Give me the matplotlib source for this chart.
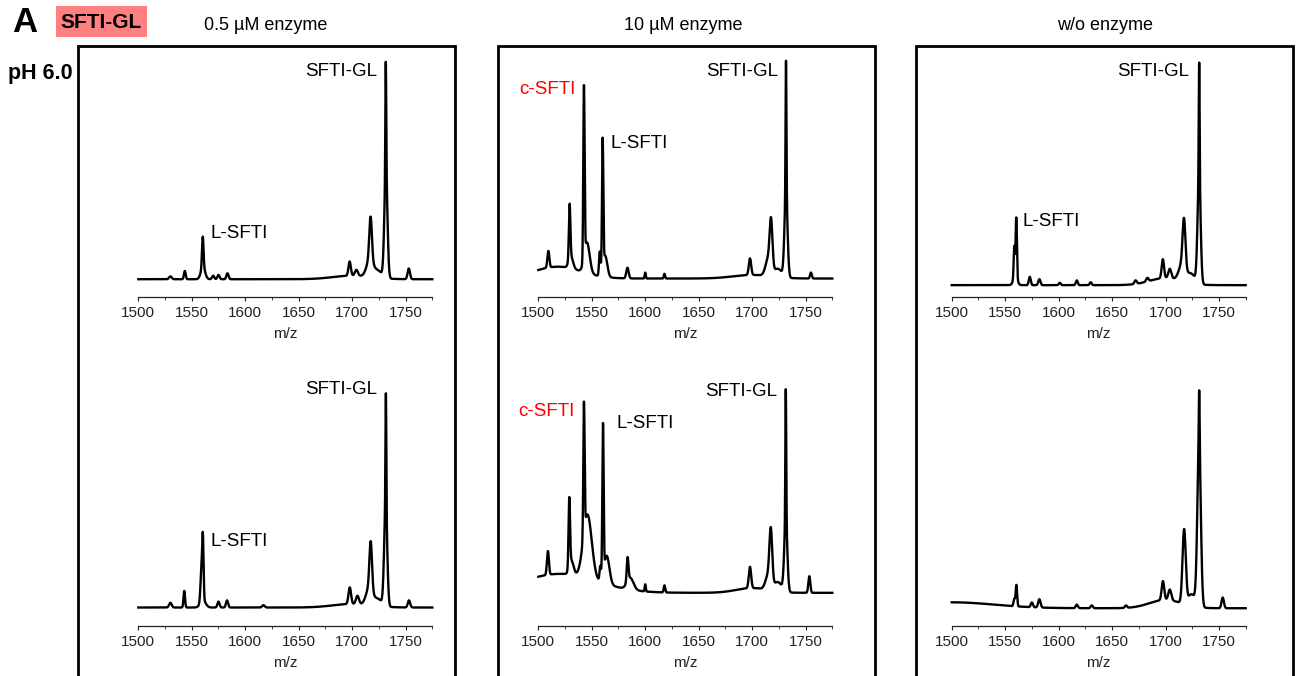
import numpy as np
import matplotlib
matplotlib.use("Agg")
import matplotlib.pyplot as plt
from matplotlib.patches import Rectangle
from matplotlib.ticker import MultipleLocator

plt.rcParams['font.family'] = ['Liberation Sans', 'DejaVu Sans']

W, H = 1299, 676

# m/z range shown on every spectrum
mz_min, mz_max = 1500, 1775
mz_ticks = [1500, 1550, 1600, 1650, 1700, 1750]

col_titles = ["0.5 µM enzyme", "10 µM enzyme", "w/o enzyme"]

# peak tables: (m/z, relative height above baseline, width)
# row 1 (pH 6.0) and row 2, one table per enzyme condition
base_05_a = 0.075
peaks_05_a = [(1530, 0.012, 1.2), (1543.5, 0.035, 0.8), (1560.3, 0.13, 0.7),
              (1560.5, 0.05, 2.0), (1570, 0.015, 1.0), (1575, 0.018, 1.0),
              (1583.4, 0.025, 1.0), (1700, 0.015, 18), (1697.7, 0.06, 1.1),
              (1704, 0.025, 1.4), (1717.3, 0.18, 1.2), (1716.5, 0.07, 3),
              (1724, 0.03, 4), (1731.6, 0.45, 1.4), (1731.5, 0.46, 0.4),
              (1753, 0.045, 1.1)]

base_10_a = 0.078
peaks_10_a = [(1518, 0.05, 22), (1509.4, 0.07, 0.9), (1529.3, 0.23, 0.7),
              (1530.5, 0.05, 2.0), (1542.7, 0.72, 0.6), (1545.5, 0.13, 2.5),
              (1557.5, 0.1, 0.7), (1560.2, 0.54, 0.6), (1562.5, 0.09, 2.0),
              (1583.4, 0.045, 1.1), (1600, 0.025, 0.5), (1618, 0.02, 0.6),
              (1700, 0.015, 18), (1698, 0.07, 1.1), (1717.7, 0.2, 1.3),
              (1715, 0.07, 2.5), (1724, 0.035, 4), (1731.7, 0.35, 1.4),
              (1731.7, 0.56, 0.4), (1755, 0.025, 0.8)]

base_wo_a = 0.05
peaks_wo_a = [(1558.5, 0.13, 0.55), (1560.4, 0.25, 0.6), (1559.5, 0.04, 1.8),
              (1573, 0.035, 0.9), (1582, 0.025, 1.0), (1601, 0.01, 0.9),
              (1617, 0.02, 0.9), (1630, 0.012, 0.9), (1672, 0.015, 1.1),
              (1683, 0.015, 1.1), (1700, 0.03, 15), (1697.5, 0.08, 1.1),
              (1704, 0.04, 1.4), (1717.3, 0.2, 1.3), (1715.5, 0.07, 3),
              (1724, 0.04, 4), (1731.4, 0.45, 1.4), (1731.5, 0.48, 0.4)]

base_05_b = 0.078
peaks_05_b = [(1530, 0.02, 1.2), (1543, 0.07, 0.7), (1559, 0.12, 0.9),
              (1560.4, 0.25, 0.65), (1560.5, 0.03, 2.5), (1575, 0.025, 1.0),
              (1583, 0.03, 1.0), (1617, 0.01, 1.2), (1700, 0.015, 18),
              (1697.8, 0.07, 1.2), (1705, 0.035, 1.4), (1717.4, 0.2, 1.2),
              (1716, 0.07, 3), (1724, 0.03, 4), (1731.4, 0.42, 1.4),
              (1731.6, 0.48, 0.4), (1753.2, 0.03, 1.1)]

base_10_b = 0.14
peaks_10_b = [(1520, 0.08, 35), (1700, 0.02, 15), (1509, 0.1, 0.9),
              (1529, 0.29, 0.7), (1531, 0.06, 2.0), (1542.7, 0.55, 0.6),
              (1546, 0.27, 4.0), (1558, 0.06, 0.7), (1560.5, 0.63, 0.6),
              (1564, 0.12, 2.5), (1583.5, 0.1, 0.8), (1586, 0.05, 3),
              (1600, 0.03, 0.5), (1618, 0.03, 0.7), (1698, 0.09, 1.1),
              (1717.5, 0.22, 1.3), (1715, 0.06, 2.5), (1724, 0.04, 4),
              (1731.5, 0.3, 1.4), (1731.5, 0.55, 0.4), (1753.5, 0.07, 0.9)]

base_wo_b = 0.075
peaks_wo_b = [(1500, 0.025, 40), (1700, 0.035, 15), (1558.5, 0.03, 0.7),
              (1560.5, 0.09, 0.7), (1575, 0.02, 1.0), (1582, 0.035, 1.1),
              (1617, 0.015, 1.0), (1631, 0.012, 1.0), (1663, 0.01, 1.0),
              (1697.6, 0.08, 1.2), (1704, 0.045, 1.4), (1717.4, 0.31, 1.5),
              (1724.5, 0.05, 3.5), (1731.4, 0.68, 1.6), (1731.5, 0.23, 0.4),
              (1753.5, 0.045, 1.1)]

mz = np.linspace(mz_min, mz_max, 2751)


def spectrum(base, peaks):
    y = np.full_like(mz, base)
    for c, h, s in peaks:
        y += h * np.exp(-0.5 * ((mz - c) / s) ** 2)
    return y


def fx(x):
    return x / W


def fy(y):
    return 1 - y / H


fig = plt.figure(figsize=(W / 100, H / 100), dpi=100)

# panel frames, open at the bottom edge of the figure
for x0, x1 in [(78, 455), (498, 875), (916, 1293)]:
    fig.patches.append(Rectangle((fx(x0), fy(720)), fx(x1) - fx(x0), fy(46) - fy(720),
                                 transform=fig.transFigure, fill=False,
                                 edgecolor='black', linewidth=2.0))

ax_left = [138.3, 538.3, 951.7]
ax_w = 294
rows = [(60, 297), (389, 626)]

spectra = [[(base_05_a, peaks_05_a), (base_10_a, peaks_10_a), (base_wo_a, peaks_wo_a)],
           [(base_05_b, peaks_05_b), (base_10_b, peaks_10_b), (base_wo_b, peaks_wo_b)]]

for r, (ytop, ybot) in enumerate(rows):
    for c in range(3):
        ax = fig.add_axes([fx(ax_left[c]), fy(ybot), ax_w / W, (ybot - ytop) / H])
        base, peaks = spectra[r][c]
        ax.plot(mz, spectrum(base, peaks), color='black', lw=1.7, clip_on=False)
        ax.set_xlim(mz_min, mz_max)
        ax.set_ylim(0, 1)
        for s in ['top', 'left', 'right']:
            ax.spines[s].set_visible(False)
        ax.spines['bottom'].set_linewidth(0.9)
        ax.spines['bottom'].set_color('#222222')
        ax.set_yticks([])
        ax.set_xticks(mz_ticks)
        ax.xaxis.set_minor_locator(MultipleLocator(25))
        ax.tick_params(axis='x', which='major', length=3, width=0.8, pad=3.5,
                       labelsize=11, colors='#222222')
        ax.tick_params(axis='x', which='minor', length=2, width=0.6, colors='#222222')
        ax.set_xlabel("m/z", fontsize=11, color='#222222', labelpad=5)
        ax.patch.set_alpha(0)

# column headings and row label
for x, t in zip([266, 683, 1105], col_titles):
    fig.text(fx(x), fy(26), t, ha='center', va='center', fontsize=13)

fig.text(fx(12), fy(23), "A", ha='left', va='center', fontsize=25, fontweight='bold')
fig.patches.append(Rectangle((fx(56), fy(37)), fx(147) - fx(56), fy(6) - fy(37),
                             transform=fig.transFigure, facecolor='#ff8080',
                             edgecolor='none'))
fig.text(fx(101), fy(22), "SFTI-GL", ha='center', va='center', fontsize=15,
         fontweight='bold')
fig.text(fx(73), fy(73), "pH 6.0", ha='right', va='center', fontsize=15.5,
         fontweight='bold')

# peak annotations
labels = [
    (377, 72, "SFTI-GL", 'right', 'black'),
    (210, 233, "L-SFTI", 'left', 'black'),
    (377, 390, "SFTI-GL", 'right', 'black'),
    (210, 541, "L-SFTI", 'left', 'black'),
    (576, 90, "c-SFTI", 'right', 'red'),
    (610, 143, "L-SFTI", 'left', 'black'),
    (778, 72, "SFTI-GL", 'right', 'black'),
    (575, 412, "c-SFTI", 'right', 'red'),
    (617, 423, "L-SFTI", 'left', 'black'),
    (777, 392, "SFTI-GL", 'right', 'black'),
    (1189, 72, "SFTI-GL", 'right', 'black'),
    (1023, 222, "L-SFTI", 'left', 'black'),
]
for x, y, t, ha, col in labels:
    fig.text(fx(x), fy(y), t, ha=ha, va='center', fontsize=13.5, color=col)

fig.savefig("out.png", dpi=100)
